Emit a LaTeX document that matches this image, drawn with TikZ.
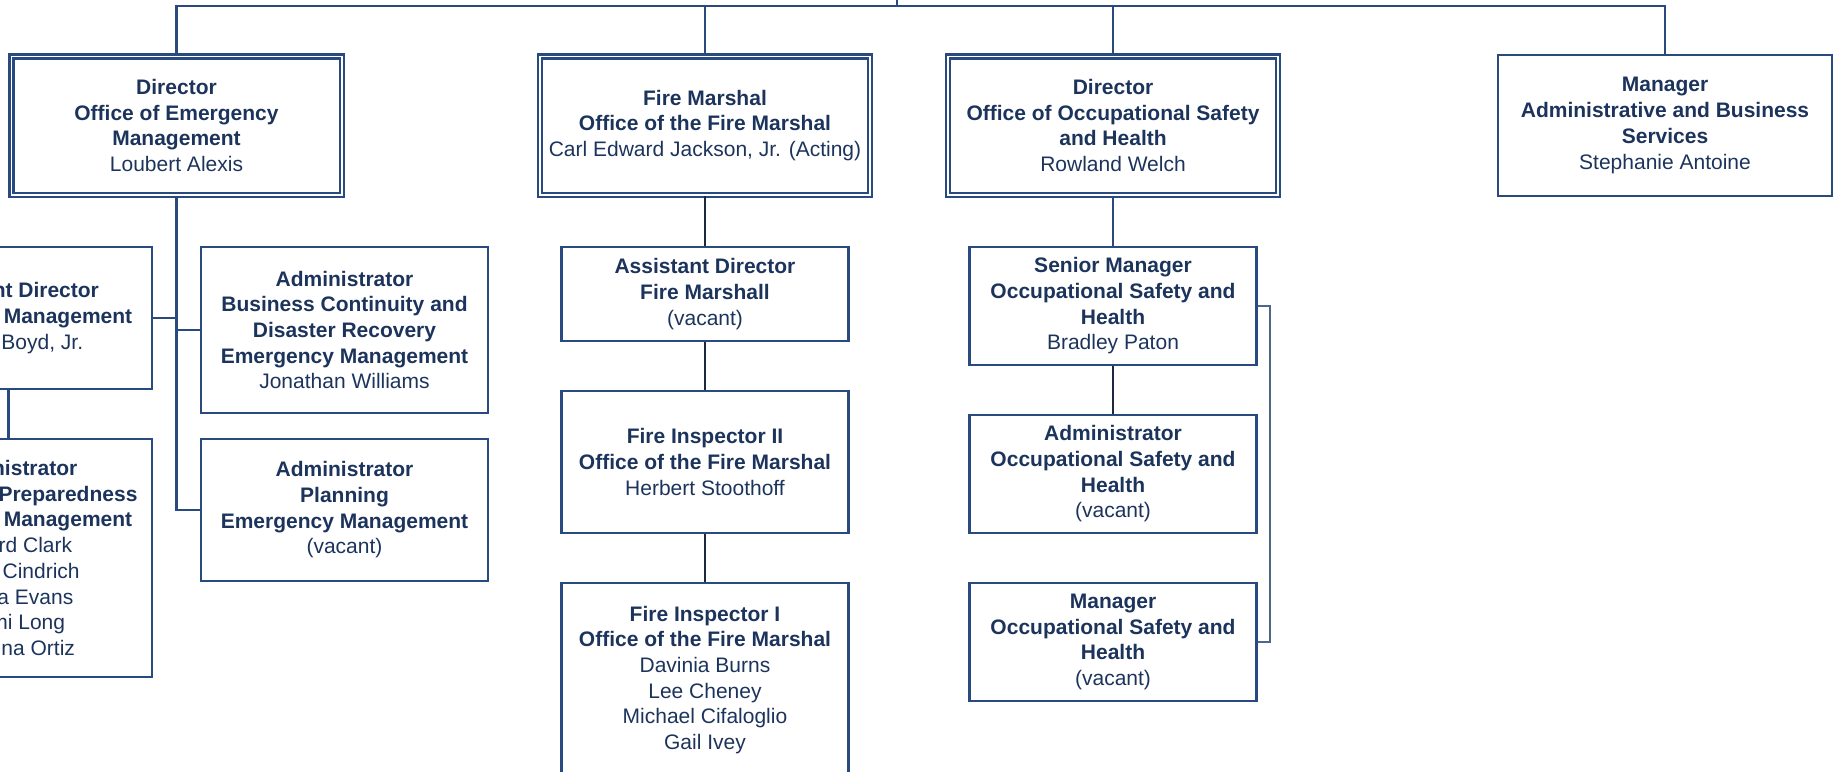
\documentclass[tikz,border=0pt]{standalone}
\usepackage{fontspec}
\setmainfont{Liberation Sans}
\definecolor{linkblue}{RGB}{40,74,126}
\definecolor{inkblue}{RGB}{28,52,92}
\definecolor{darkline}{RGB}{28,40,62}
\definecolor{greyline}{RGB}{78,102,140}

\begin{document}
\begin{tikzpicture}[
  x=0.5pt, y=-0.5pt,
  font=\fontsize{10.5}{12.85}\selectfont,
  head/.style={draw=linkblue, double, double distance=0.8pt, line width=1.2pt, minimum width=165.2pt, minimum height=69.2pt, align=center, text=inkblue, inner sep=1pt},
  lead/.style={draw=linkblue, line width=1.2pt, minimum width=166.8pt, minimum height=70.3pt, align=center, text=inkblue, inner sep=1pt},
  post/.style={draw=linkblue, line width=1.2pt, minimum width=143.4pt, align=center, text=inkblue, inner sep=1pt},
  link/.style={draw=linkblue, line width=1.2pt},
  darklink/.style={draw=darkline, line width=1.1pt},
  bracket/.style={draw=greyline, line width=1.1pt}
]
\useasboundingbox (0,0) rectangle (1835,771);

\node[head] (oem) at (176.5,125.5) {\textbf{Director}\\\textbf{Office of Emergency}\\\textbf{Management}\\Loubert Alexis};
\node[head] (ofm) at (705,125.5) {\textbf{Fire Marshal}\\\textbf{Office of the Fire Marshal}\\Carl Edward Jackson, Jr. (Acting)};
\node[head] (osh) at (1113,125.5) {\textbf{Director}\\\textbf{Office of Occupational Safety}\\\textbf{and Health}\\Rowland Welch};
\node[lead] (abs) at (1665,125.5) {\textbf{Manager}\\\textbf{Administrative and Business}\\\textbf{Services}\\Stephanie Antoine};

\node[post, minimum height=71pt] (aem) at (8.5,318) {\textbf{Assistant Director}\\\textbf{Emergency Management}\\\hspace*{3.22em}Boyd, Jr.};
\node[post, minimum height=119pt] (prep) at (8.5,558) {\textbf{Administrator}\\\textbf{Emergency Preparedness}\\\textbf{Emergency Management}\\\hspace*{2.56em}rd Clark\\\hspace*{3.11em}Cindrich\\\hspace*{2.56em}a Evans\\\hspace*{1.83em}mi Long\\\hspace*{2.61em}ina Ortiz};
\node[post, minimum height=83pt] (bcdr) at (344.5,330) {\textbf{Administrator}\\\textbf{Business Continuity and}\\\textbf{Disaster Recovery}\\\textbf{Emergency Management}\\Jonathan Williams};
\node[post, minimum height=71pt] (plan) at (344.5,510) {\textbf{Administrator}\\\textbf{Planning}\\\textbf{Emergency Management}\\(vacant)};

\node[post, minimum height=47pt] (afm) at (705,294) {\textbf{Assistant Director}\\\textbf{Fire Marshall}\\(vacant)};
\node[post, minimum height=71pt] (fi2) at (705,462) {\textbf{Fire Inspector II}\\\textbf{Office of the Fire Marshal}\\Herbert Stoothoff};
\node[post, minimum height=97pt] (fi1) at (705,680) {\textbf{Fire Inspector I}\\\textbf{Office of the Fire Marshal}\\Davinia Burns\\Lee Cheney\\Michael Cifaloglio\\Gail Ivey};

\node[post, minimum height=59pt] (sm) at (1113,306) {\textbf{Senior Manager}\\\textbf{Occupational Safety and}\\\textbf{Health}\\Bradley Paton};
\node[post, minimum height=59pt] (aosh) at (1113,474) {\textbf{Administrator}\\\textbf{Occupational Safety and}\\\textbf{Health}\\(vacant)};
\node[post, minimum height=59pt] (mosh) at (1113,642) {\textbf{Manager}\\\textbf{Occupational Safety and}\\\textbf{Health}\\(vacant)};

\coordinate (root) at (897,0);
\coordinate (bus) at (897,6);

\draw[link] (root) -- (bus);
\draw[link] (oem.north) |- (bus) -| (abs.north);
\draw[link] (ofm.north) |- (bus);
\draw[link] (osh.north) |- (bus);

\draw[link] (oem.south) |- (plan.west);
\draw[link] (oem.south) |- (bcdr.west);
\draw[link] (oem.south) |- (aem.east);
\draw[link] (aem) -- (prep);

\draw[darklink] (ofm) -- (afm);
\draw[darklink] (afm) -- (fi2);
\draw[darklink] (fi2) -- (fi1);

\draw[link] (osh) -- (sm);
\draw[darklink] (sm) -- (aosh);
\draw[bracket] (sm.east) -- ++(12,0) |- (mosh.east);
\end{tikzpicture}
\end{document}
